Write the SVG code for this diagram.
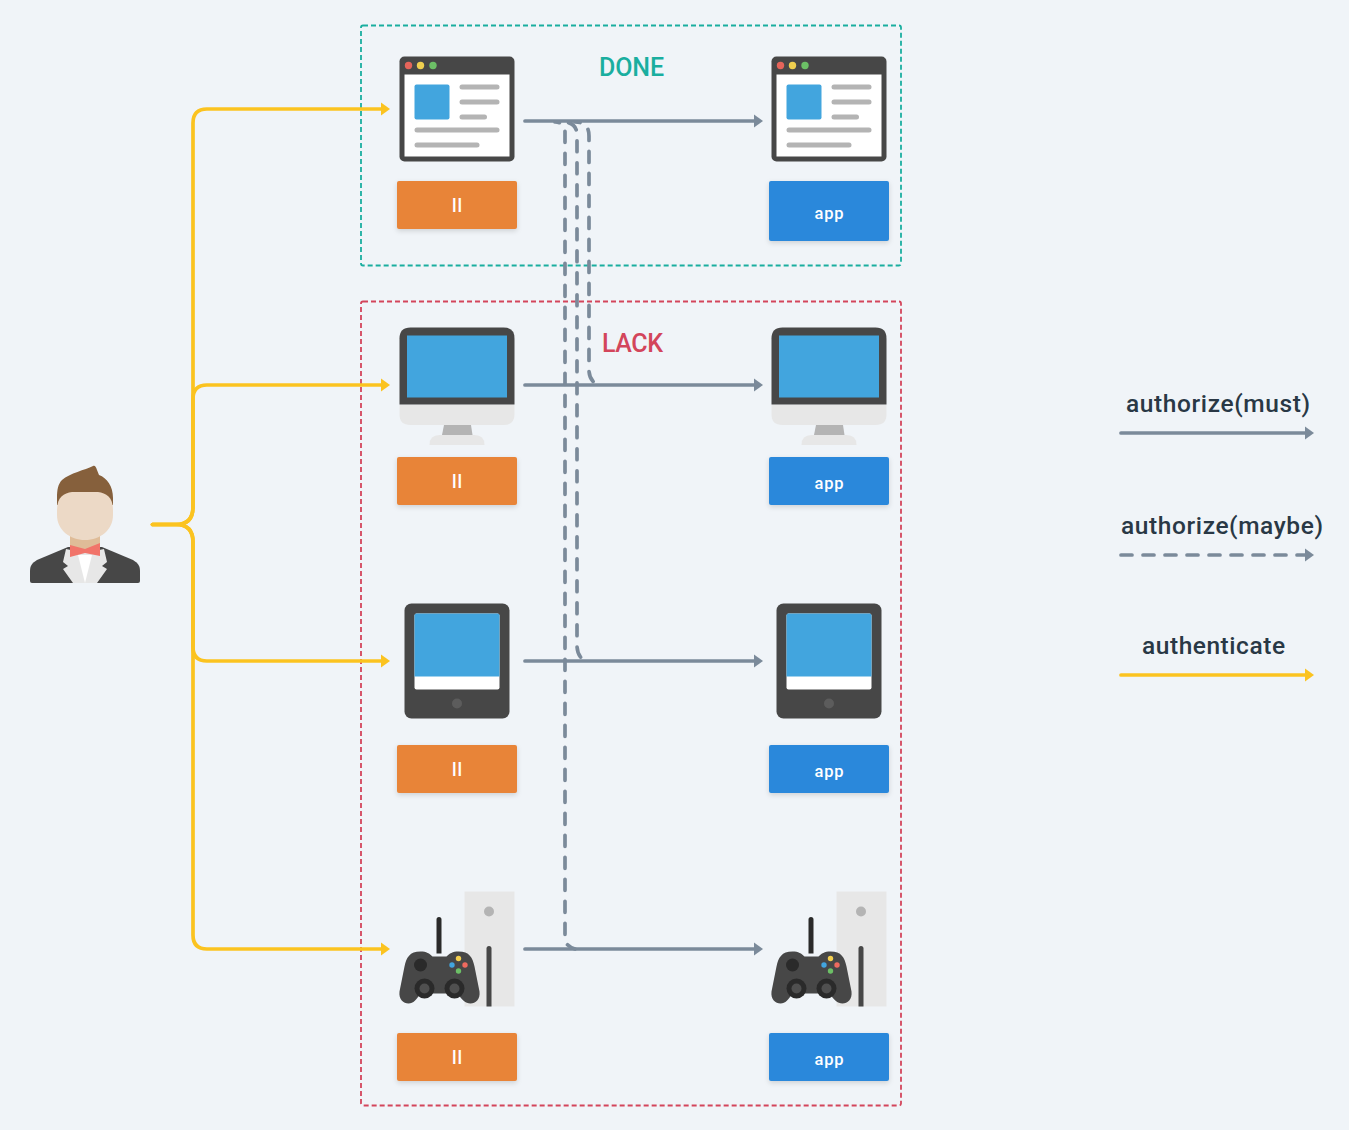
<svg xmlns="http://www.w3.org/2000/svg" width="1349" height="1130" viewBox="0 0 1349 1130">
<style>
text{font-family:Roboto,"Noto Sans","Liberation Sans",sans-serif}
.lbl{font-size:16.500px;font-weight:500;fill:#fff;text-anchor:middle}
.ll{font-size:18px;font-weight:500;fill:#fff;text-anchor:middle}
.leg{font-size:24.500px;font-weight:500;fill:#293845}
.ttl{font-size:25px;font-weight:500}
.auth{fill:none;stroke:#FBC320;stroke-width:3.700;stroke-linecap:round}
.must{fill:none;stroke:#7B8A9A;stroke-width:3.700;stroke-linecap:round}
.maybe{fill:none;stroke:#7B8A9A;stroke-width:3.700;stroke-linecap:round;stroke-dasharray:11 11}
.org{fill:#E88438;filter:url(#sh)}
.blu{fill:#2C88DB;filter:url(#sh)}
.bar{fill:#B4B4B4}
.dk{fill:#474747}
.sc{fill:#42A5DE}
.lt{fill:#E7E7E7}
</style>
<defs>
<filter id="sh" x="-10%" y="-15%" width="120%" height="140%"><feDropShadow dx="0" dy="2" stdDeviation="2.5" flood-color="#000" flood-opacity="0.14"/></filter>
<marker id="ag" markerUnits="userSpaceOnUse" markerWidth="10" markerHeight="14" refX="1" refY="7" orient="auto"><path d="M0 0.5L9 7L0 13.500Z" fill="#7B8A9A"/></marker>
<marker id="ay" markerUnits="userSpaceOnUse" markerWidth="10" markerHeight="14" refX="1" refY="7" orient="auto"><path d="M0 0.5L9 7L0 13.500Z" fill="#FBC320"/></marker>
<g id="i-browser">
<rect x="0" y="0" width="115" height="105" rx="5" class="dk"/>
<rect x="5" y="18" width="105" height="82" fill="#fff"/>
<circle cx="9" cy="9" r="3.700" fill="#E5645A"/><circle cx="21" cy="9" r="3.700" fill="#EFCF4F"/><circle cx="33.500" cy="9" r="3.700" fill="#6CBF66"/>
<rect x="15" y="28" width="35" height="35" rx="2" class="sc"/>
<rect x="60" y="28" width="40" height="5" rx="2.500" class="bar"/><rect x="60" y="43" width="40" height="5" rx="2.500" class="bar"/><rect x="60" y="58" width="27.500" height="5" rx="2.500" class="bar"/>
<rect x="15" y="71" width="85" height="5" rx="2.500" class="bar"/><rect x="15" y="86" width="65" height="5" rx="2.500" class="bar"/>
</g>
<g id="i-desktop">
<path d="M0 77H115V87Q115 97.500 104 97.500H11Q0 97.500 0 87Z" class="lt"/>
<path d="M0 77V11Q0 0 11 0H104Q115 0 115 11V77Z" class="dk"/>
<rect x="7.500" y="8" width="100" height="62" class="sc"/>
<path d="M44.500 97.500H71.500L73 107.500H42.500Z" class="bar"/>
<path d="M30 117.500Q30 107.500 40 107.500H75Q85 107.500 85 117.500Z" class="lt"/>
</g>
<g id="i-tablet">
<rect x="0" y="0" width="105" height="115" rx="7" class="dk"/>
<rect x="10" y="10" width="85" height="76" rx="2" fill="#fff"/>
<path d="M10 73V12Q10 10 12 10H93Q95 10 95 12V73Z" class="sc"/>
<circle cx="52.500" cy="100" r="5" fill="#5C5C5C"/>
</g>
<g id="i-console">
<rect x="65" y="0" width="50" height="115" class="lt"/>
<circle cx="89.500" cy="20" r="5" class="bar"/>
<path d="M87 115V57a2.500 2.500 0 0 1 5 0V115Z" class="dk"/>
<path d="M37 62V28a2.500 2.500 0 0 1 5 0V62Z" fill="#2A2A2A"/>
<path d="M21 60C10 60 7 66 5 75L0 100C-1 108 4 112 9 112C14 112 17 108 21 102H58C62 108 66 112 71 112C76 112 81 108 80 100L75 75C73 66 70 60 59 60C53 60 50 62 47 65H33C30 62 27 60 21 60Z" class="dk"/>
<circle cx="21" cy="73.500" r="6.500" fill="#2A2A2A"/>
<circle cx="25" cy="97" r="10" fill="#2A2A2A"/><circle cx="25" cy="97" r="5" fill="#4F4F4F"/>
<circle cx="55" cy="97" r="10" fill="#2A2A2A"/><circle cx="55" cy="97" r="5" fill="#4F4F4F"/>
<circle cx="59" cy="67" r="2.700" fill="#F4CF4E"/><circle cx="52.500" cy="73.500" r="2.700" fill="#42A5DE"/><circle cx="65.500" cy="73.500" r="2.700" fill="#EE6A5F"/><circle cx="59" cy="79.500" r="2.700" fill="#6CBF66"/>
</g>
</defs>
<rect width="1349" height="1130" fill="#F0F4F8"/>

<g id="group-done"><rect x="361" y="25.500" width="540" height="240" rx="2" fill="none" stroke="#1AAE9F" stroke-width="1.800" stroke-dasharray="5 3"/><text class="ttl" x="599" y="76" textLength="65" fill="#1AAE9F">DONE</text></g>
<g id="group-lack"><rect x="361" y="301.500" width="540" height="804" rx="2" fill="none" stroke="#D3455B" stroke-width="1.800" stroke-dasharray="5 3"/><text class="ttl" x="602" y="352" textLength="61" fill="#D3455B">LACK</text></g>

<g id="connectors">
<path class="auth" marker-end="url(#ay)" d="M152.500 524.500H176Q193 524.500 193 507V123Q193 109 207 109H382"/>
<path class="auth" marker-end="url(#ay)" d="M152.500 524.500H176Q193 524.500 193 507V399Q193 385 207 385H382"/>
<path class="auth" marker-end="url(#ay)" d="M152.500 524.500H176Q193 524.500 193 542V647Q193 661 207 661H382"/>
<path class="auth" marker-end="url(#ay)" d="M152.500 524.500H176Q193 524.500 193 542V935Q193 949 207 949H382"/>
<path class="must" marker-end="url(#ag)" d="M525 121H755"/>
<path class="must" marker-end="url(#ag)" d="M525 385H755"/>
<path class="must" marker-end="url(#ag)" d="M525 661H755"/>
<path class="must" marker-end="url(#ag)" d="M525 949H755"/>
<path class="maybe" stroke-dashoffset="6.500" d="M555 122Q565 122 565 132V938Q565 946 575 949"/>
<path class="maybe" stroke-dashoffset="-2.500" d="M566 122Q577 124 577 135V645Q577 656 584 660"/>
<path class="maybe" stroke-dashoffset="6" d="M575 122Q589 122 589 136V370Q589 379 596 384"/>
</g>

<g id="user">
<path d="M62 480C70 473 85 470 93 466C95 465 96 467 97 470L99 475C107 478 113 486 113 498V505H57V498C57 490 58 484 62 480Z" fill="#86603C"/>
<path d="M68 547L37 560C32 563 30 566 30 571V581Q30 583 32 583H138Q140 583 140 581V571C140 566 138 563 133 560L102 547Z" class="dk"/>
<rect x="70" y="530" width="30" height="20" fill="#DFBC98"/>
<path d="M66 549L63 562L68 566L63 569L73 583H97L107 569L102 566L107 562L104 549L85 553Z" class="lt"/>
<path d="M78 555H92L85 583Z" fill="#fff"/>
<path d="M70 545L85 549L100 543V556L85 553L70 557Z" fill="#F1746A"/>
<path d="M57 510C57 497 64 493 72 492H98C106 493 113 497 113 510V515C113 530 100 540 85 540C70 540 57 530 57 515Z" fill="#ECD9C6"/>
</g>

<g id="n-browser-left"><use href="#i-browser" x="399.500" y="56.500"/></g>
<g id="n-ll-1"><rect class="org" x="397" y="181" width="120" height="48" rx="2"/><text class="ll" x="457" y="212" textLength="10">ll</text></g>
<g id="n-browser-right"><use href="#i-browser" x="771.500" y="56.500"/></g>
<g id="n-app-1"><rect class="blu" x="769" y="181" width="120" height="60" rx="2"/><text class="lbl" x="829" y="218.500" textLength="29">app</text></g>

<g id="n-desktop-left"><use href="#i-desktop" x="399.500" y="327.500"/></g>
<g id="n-ll-2"><rect class="org" x="397" y="457" width="120" height="48" rx="2"/><text class="ll" x="457" y="488" textLength="10">ll</text></g>
<g id="n-desktop-right"><use href="#i-desktop" x="771.500" y="327.500"/></g>
<g id="n-app-2"><rect class="blu" x="769" y="457" width="120" height="48" rx="2"/><text class="lbl" x="829" y="488.500" textLength="29">app</text></g>

<g id="n-tablet-left"><use href="#i-tablet" x="404.500" y="603.500"/></g>
<g id="n-ll-3"><rect class="org" x="397" y="745" width="120" height="48" rx="2"/><text class="ll" x="457" y="776" textLength="10">ll</text></g>
<g id="n-tablet-right"><use href="#i-tablet" x="776.500" y="603.500"/></g>
<g id="n-app-3"><rect class="blu" x="769" y="745" width="120" height="48" rx="2"/><text class="lbl" x="829" y="776.500" textLength="29">app</text></g>

<g id="n-console-left"><use href="#i-console" x="399.500" y="891.500"/></g>
<g id="n-ll-4"><rect class="org" x="397" y="1033" width="120" height="48" rx="2"/><text class="ll" x="457" y="1064" textLength="10">ll</text></g>
<g id="n-console-right"><use href="#i-console" x="771.500" y="891.500"/></g>
<g id="n-app-4"><rect class="blu" x="769" y="1033" width="120" height="48" rx="2"/><text class="lbl" x="829" y="1064.500" textLength="29">app</text></g>

<g id="legend">
<text class="leg" x="1126" y="412" textLength="184">authorize(must)</text>
<path class="must" marker-end="url(#ag)" d="M1121 433H1306"/>
<text class="leg" x="1121" y="534" textLength="202">authorize(maybe)</text>
<path class="maybe" marker-end="url(#ag)" d="M1121 555H1306"/>
<text class="leg" x="1142" y="654" textLength="143">authenticate</text>
<path class="auth" marker-end="url(#ay)" d="M1121 675H1306"/>
</g>
</svg>
